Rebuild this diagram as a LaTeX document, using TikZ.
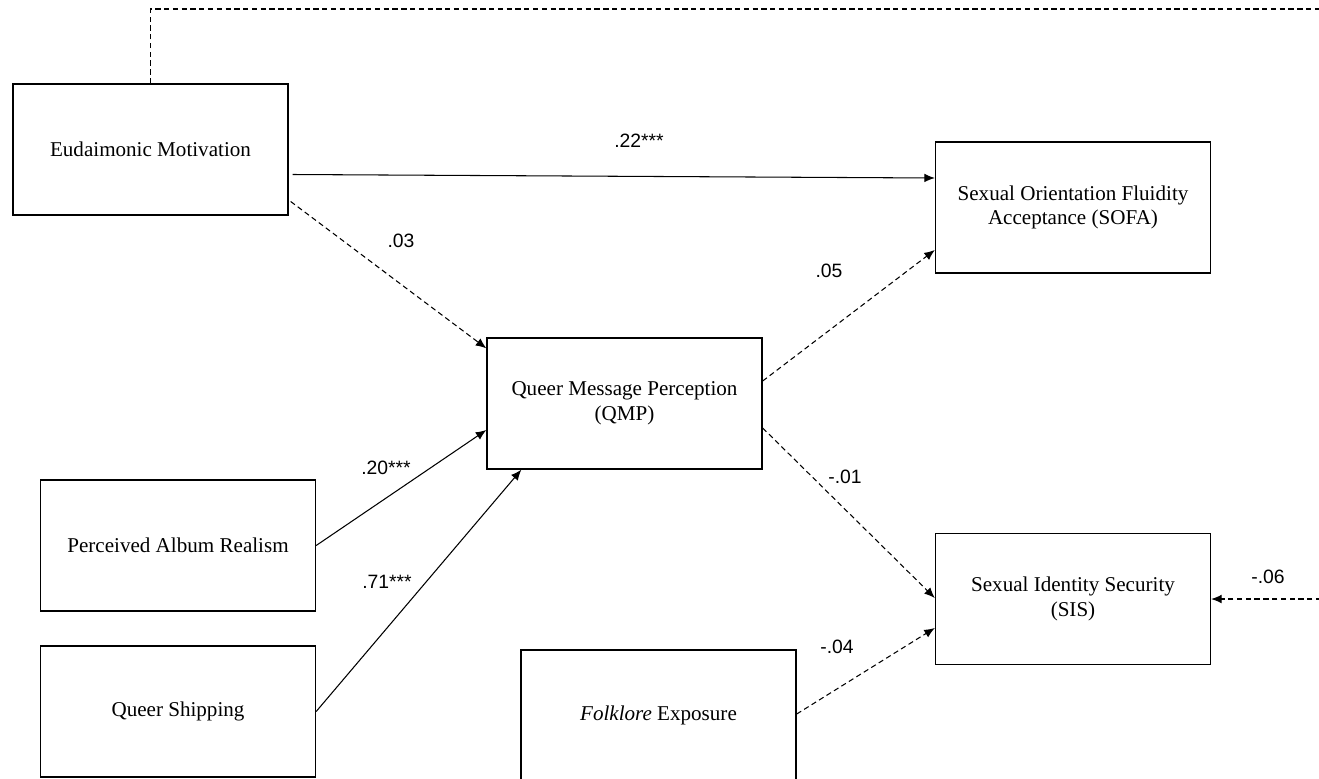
\documentclass[tikz,border=0pt]{standalone}
\usepackage{fontspec}
\setmainfont{Liberation Serif}
\newfontfamily\labfont{Liberation Sans}
\usetikzlibrary{arrows.meta}

\begin{document}
\begin{tikzpicture}[x=0.02cm,y=-0.02cm,
	varbox/.style={draw,line width=0.8pt,minimum width=5.5cm,minimum height=2.62cm,align=center,font=\fontsize{12}{14}\selectfont},
	path/.style={line width=0.6pt,-{Latex[length=6pt,width=5pt]}},
	nspath/.style={path,dash pattern=on 3pt off 2pt},
	coef/.style={font=\labfont\fontsize{11}{13}\selectfont}]
	\useasboundingbox (0,0) rectangle (1319,778);
	\node[varbox] (eud) at (150.5,149.5) {Eudaimonic Motivation};
	\node[varbox] (sofa) at (1073,207.5) {Sexual Orientation Fluidity\\Acceptance (SOFA)};
	\node[varbox] (qmp) at (624.5,403.5) {Queer Message Perception\\(QMP)};
	\node[varbox] (real) at (178,545.5) {Perceived Album Realism};
	\node[varbox] (ship) at (178,711.5) {Queer Shipping};
	\node[varbox] (folk) at (658.5,715.5) {\textit{Folklore} Exposure};
	\node[varbox] (sis) at (1073,599) {Sexual Identity Security\\(SIS)};
	\coordinate (topright) at (1330,9);
	\coordinate (sisin) at (1330,599);
	\draw[nspath,-] (eud.north) -- (eud.north |- topright) -- (topright);
	\draw[path] ([shift={(4,25)}]eud.east) -- ([shift={(0,-29.5)}]sofa.west);
	\draw[nspath] ([shift={(2,52)}]eud.east) -- ([shift={(0,11)}]qmp.north west);
	\draw[path] (real.east) -- ([shift={(0,26.5)}]qmp.west);
	\draw[path] (ship.east) -- ([shift={(35,0)}]qmp.south west);
	\draw[nspath] ([shift={(0,-22.5)}]qmp.east) -- ([shift={(0,42.5)}]sofa.west);
	\draw[nspath] ([shift={(0,24.5)}]qmp.east) -- ([shift={(0,-1)}]sis.west);
	\draw[nspath] ([shift={(0,-1.5)}]folk.east) -- ([shift={(0,29)}]sis.west);
	\draw[nspath] (sisin) -- (sis.east);
	\node[coef] (c22) at (639,141) {.22***};
	\node[coef] (c03) at (401,241) {.03};
	\node[coef] (c05) at (829,271) {.05};
	\node[coef] (c01) at (845,477) {-.01};
	\node[coef] (c20) at (386,468) {.20***};
	\node[coef] (c71) at (387,582) {.71***};
	\node[coef] (c04) at (837,647) {-.04};
	\node[coef] (c06) at (1268,577) {-.06};
\end{tikzpicture}
\end{document}
